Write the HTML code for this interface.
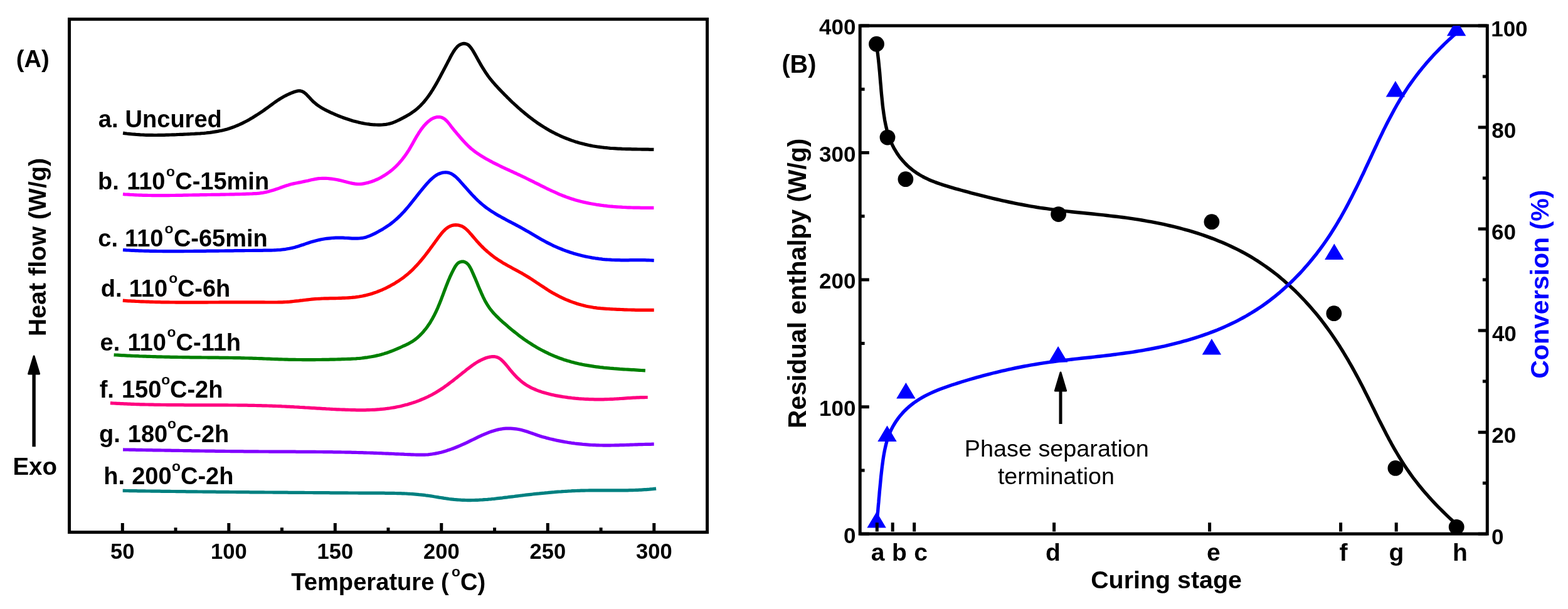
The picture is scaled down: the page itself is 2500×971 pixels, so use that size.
<!DOCTYPE html>
<html><head><meta charset="utf-8"><title>DSC curing figure</title>
<style>html,body{margin:0;padding:0;background:#fff;overflow:hidden}svg{display:block}text{font-family:'Liberation Sans', Arial, Helvetica, sans-serif;font-weight:bold;fill:#000}</style></head><body>
<svg width="2500" height="971" viewBox="0 0 2500 971">
<rect x="0" y="0" width="2500" height="971" fill="#fff"/>
<g id="left">
<path d="M196.1,212.1L199.1,212.6L202.2,213.0L205.3,213.3L208.3,213.7L211.4,214.0L214.5,214.2L217.7,214.5L220.8,214.7L223.9,214.9L227.0,215.0L230.2,215.2L233.3,215.3L236.5,215.3L239.6,215.4L242.8,215.4L246.0,215.5L249.2,215.5L252.3,215.4L255.5,215.4L258.7,215.3L261.9,215.3L265.1,215.2L268.3,215.1L271.5,215.0L274.7,214.9L277.9,214.8L281.1,214.7L284.3,214.5L287.4,214.4L290.6,214.3L293.8,214.1L297.0,214.0L300.2,213.8L303.4,213.7L306.5,213.5L309.7,213.4L312.8,213.2L316.0,213.0L319.1,212.8L322.3,212.5L325.4,212.3L328.5,212.0L331.6,211.6L334.8,211.3L337.8,210.9L340.9,210.4L344.0,209.9L347.1,209.4L350.1,208.8L353.2,208.2L356.2,207.5L359.2,206.7L362.2,205.9L365.2,205.0L368.2,204.0L371.1,203.0L374.1,201.9L377.0,200.7L379.9,199.5L382.8,198.2L385.7,196.8L388.5,195.4L391.3,194.0L394.2,192.5L397.0,190.9L399.7,189.3L402.5,187.7L405.2,186.0L407.9,184.3L410.6,182.6L413.3,180.9L415.9,179.1L418.6,177.3L421.2,175.5L423.7,173.7L426.3,171.8L428.8,170.0L431.3,168.1L433.8,166.3L436.3,164.5L438.8,162.7L441.4,160.9L443.9,159.2L446.6,157.5L449.2,155.9L452.0,154.3L454.8,152.8L457.6,151.4L460.6,150.0L463.6,148.7L466.6,147.5L469.8,146.3L473.0,145.4L476.1,144.8L479.0,144.9L481.8,145.7L484.4,147.1L486.9,149.0L489.2,151.2L491.5,153.6L493.8,156.0L496.0,158.5L498.3,160.8L500.6,163.1L503.0,165.1L505.5,167.1L508.1,168.9L510.7,170.6L513.3,172.2L516.0,173.7L518.7,175.2L521.5,176.6L524.3,177.9L527.1,179.3L530.0,180.5L532.9,181.8L535.8,183.1L538.7,184.3L541.6,185.5L544.6,186.6L547.5,187.7L550.5,188.8L553.5,189.8L556.6,190.8L559.6,191.8L562.6,192.7L565.7,193.5L568.8,194.3L571.9,195.1L574.9,195.8L578.0,196.4L581.1,197.0L584.2,197.5L587.4,197.9L590.5,198.3L593.6,198.6L596.7,198.8L599.8,199.0L603.0,199.1L606.1,199.1L609.2,199.0L612.3,198.7L615.4,198.4L618.5,197.8L621.6,197.1L624.6,196.2L627.6,195.1L630.6,193.9L633.6,192.5L636.5,191.1L639.4,189.6L642.3,188.1L645.1,186.6L647.9,185.1L650.6,183.5L653.3,181.9L655.9,180.2L658.5,178.4L661.0,176.6L663.4,174.7L665.8,172.8L668.0,170.7L670.3,168.6L672.4,166.3L674.6,164.0L676.6,161.7L678.6,159.2L680.5,156.7L682.4,154.2L684.3,151.6L686.1,149.0L687.8,146.3L689.6,143.6L691.2,140.9L692.9,138.1L694.5,135.4L696.1,132.6L697.7,129.8L699.2,127.0L700.7,124.2L702.2,121.4L703.7,118.6L705.2,115.8L706.6,113.1L708.1,110.3L709.5,107.6L711.0,104.8L712.4,102.1L713.8,99.3L715.3,96.6L716.7,93.8L718.1,91.0L719.6,88.2L721.2,85.5L722.8,82.7L724.6,80.0L726.6,77.3L728.7,74.8L731.2,72.6L733.9,71.0L736.8,69.9L739.8,69.4L742.8,69.8L745.5,70.9L747.9,72.7L750.1,75.2L752.1,77.9L753.9,80.6L755.5,83.3L757.1,86.1L758.6,88.8L760.1,91.6L761.6,94.3L763.2,97.1L764.7,99.8L766.3,102.6L767.9,105.3L769.5,108.0L771.2,110.7L772.9,113.4L774.6,116.0L776.4,118.6L778.2,121.2L780.1,123.7L782.0,126.2L784.0,128.6L786.0,131.0L788.1,133.4L790.1,135.7L792.3,138.1L794.4,140.4L796.5,142.6L798.7,144.9L800.9,147.2L803.1,149.4L805.3,151.7L807.6,153.9L809.8,156.2L812.1,158.4L814.3,160.6L816.6,162.8L818.9,164.9L821.3,167.1L823.6,169.2L825.9,171.3L828.3,173.4L830.7,175.5L833.1,177.6L835.5,179.6L838.0,181.6L840.4,183.6L842.9,185.6L845.4,187.5L847.9,189.4L850.4,191.3L853.0,193.1L855.5,195.0L858.1,196.8L860.7,198.5L863.4,200.2L866.0,201.9L868.7,203.6L871.4,205.2L874.1,206.8L876.8,208.4L879.6,209.9L882.4,211.3L885.2,212.8L888.0,214.2L890.9,215.5L893.7,216.8L896.6,218.1L899.5,219.3L902.4,220.5L905.4,221.7L908.3,222.8L911.3,223.9L914.3,224.9L917.3,225.9L920.3,226.8L923.3,227.7L926.4,228.5L929.4,229.3L932.5,230.1L935.5,230.8L938.6,231.5L941.7,232.1L944.8,232.7L947.9,233.2L951.1,233.7L954.2,234.2L957.3,234.6L960.5,235.0L963.6,235.4L966.8,235.7L969.9,236.0L973.1,236.3L976.3,236.5L979.4,236.7L982.6,236.9L985.8,237.1L988.9,237.2L992.1,237.4L995.3,237.5L998.4,237.6L1001.6,237.7L1004.8,237.7L1007.9,237.8L1011.1,237.9L1014.3,237.9L1017.4,238.0L1020.6,238.0L1023.7,238.1L1026.8,238.1L1030.0,238.2L1033.1,238.2L1036.2,238.3L1039.3,238.3L1042.4,238.4" fill="none" stroke="#000000" stroke-width="5.2" stroke-linejoin="round" stroke-linecap="butt"/>
<path d="M196.0,309.5L198.9,309.8L201.8,310.0L204.7,310.2L207.6,310.4L210.5,310.5L213.5,310.7L216.4,310.8L219.3,311.0L222.2,311.1L225.1,311.2L228.1,311.3L231.0,311.4L233.9,311.4L236.9,311.5L239.8,311.5L242.7,311.6L245.7,311.6L248.6,311.6L251.6,311.6L254.5,311.7L257.5,311.6L260.5,311.6L263.4,311.6L266.4,311.6L269.3,311.6L272.3,311.5L275.3,311.5L278.2,311.5L281.2,311.4L284.2,311.4L287.1,311.3L290.1,311.3L293.1,311.2L296.0,311.2L299.0,311.1L302.0,311.0L304.9,311.0L307.9,310.9L310.9,310.9L313.8,310.8L316.8,310.8L319.8,310.7L322.7,310.7L325.7,310.6L328.7,310.6L331.6,310.5L334.6,310.5L337.6,310.4L340.5,310.4L343.5,310.4L346.4,310.3L349.4,310.3L352.3,310.2L355.3,310.1L358.2,310.1L361.2,310.0L364.1,310.0L367.1,309.9L370.0,309.8L372.9,309.8L375.9,309.7L378.8,309.6L381.7,309.6L384.6,309.5L387.5,309.4L390.5,309.3L393.4,309.2L396.3,309.1L399.2,309.0L402.1,308.9L405.0,308.7L407.9,308.6L410.7,308.4L413.6,308.1L416.5,307.7L419.4,307.3L422.2,306.7L425.1,306.1L427.9,305.4L430.8,304.6L433.7,303.8L436.5,302.9L439.3,302.0L442.2,301.1L445.0,300.1L447.9,299.0L450.7,298.0L453.6,297.0L456.4,296.0L459.2,295.2L462.1,294.3L464.9,293.6L467.8,292.9L470.6,292.3L473.5,291.7L476.3,291.1L479.2,290.6L482.0,290.0L484.9,289.4L487.8,288.8L490.6,288.2L493.5,287.5L496.4,286.8L499.3,286.2L502.2,285.6L505.1,285.1L508.0,284.7L510.9,284.5L513.8,284.3L516.7,284.3L519.6,284.4L522.6,284.5L525.5,284.8L528.4,285.1L531.3,285.5L534.3,286.0L537.2,286.5L540.1,287.1L543.1,287.8L546.0,288.5L548.9,289.3L551.8,290.0L554.7,290.8L557.7,291.5L560.6,292.1L563.4,292.7L566.3,293.1L569.2,293.4L572.1,293.5L575.0,293.4L577.8,293.1L580.6,292.6L583.5,292.0L586.3,291.4L589.1,290.6L591.9,289.7L594.6,288.7L597.4,287.7L600.1,286.5L602.8,285.3L605.4,284.0L608.1,282.6L610.6,281.1L613.2,279.5L615.7,277.9L618.1,276.2L620.5,274.5L622.9,272.7L625.2,270.8L627.4,268.8L629.6,266.8L631.8,264.8L633.8,262.7L635.9,260.5L637.8,258.3L639.7,256.1L641.6,253.8L643.4,251.4L645.2,249.1L646.9,246.7L648.6,244.2L650.2,241.8L651.8,239.3L653.3,236.8L654.8,234.2L656.3,231.7L657.8,229.1L659.2,226.5L660.6,223.9L662.1,221.4L663.5,218.8L665.0,216.3L666.6,213.8L668.1,211.3L669.8,208.9L671.4,206.5L673.2,204.1L675.0,201.8L677.0,199.5L679.0,197.4L681.1,195.2L683.4,193.3L685.7,191.4L688.2,189.8L690.7,188.5L693.4,187.4L696.1,186.7L698.9,186.5L701.7,186.7L704.4,187.3L707.0,188.6L709.4,190.2L711.7,192.2L713.8,194.5L715.8,197.0L717.8,199.5L719.6,202.0L721.5,204.4L723.3,206.6L725.1,208.8L726.9,210.9L728.7,213.1L730.6,215.3L732.5,217.5L734.4,219.7L736.4,222.0L738.4,224.2L740.5,226.5L742.5,228.7L744.7,230.9L746.8,233.0L749.0,235.0L751.2,237.0L753.5,238.8L755.8,240.6L758.1,242.3L760.4,244.0L762.8,245.6L765.2,247.2L767.6,248.7L770.1,250.2L772.6,251.7L775.1,253.2L777.6,254.6L780.2,256.0L782.8,257.4L785.4,258.8L788.0,260.1L790.6,261.4L793.2,262.7L795.9,264.0L798.6,265.3L801.2,266.6L803.9,267.8L806.6,269.1L809.3,270.3L812.0,271.5L814.7,272.8L817.4,274.0L820.1,275.3L822.8,276.5L825.5,277.8L828.2,279.0L830.9,280.3L833.6,281.6L836.3,282.8L839.0,284.2L841.6,285.5L844.3,286.8L846.9,288.1L849.6,289.4L852.2,290.8L854.9,292.1L857.5,293.4L860.2,294.7L862.8,296.1L865.4,297.4L868.1,298.7L870.7,300.0L873.4,301.3L876.0,302.5L878.7,303.8L881.3,305.0L884.0,306.2L886.7,307.4L889.3,308.6L892.0,309.8L894.7,310.9L897.4,312.0L900.2,313.0L902.9,314.1L905.6,315.0L908.4,316.0L911.2,316.9L914.0,317.8L916.8,318.7L919.6,319.5L922.4,320.2L925.2,321.0L928.1,321.7L931.0,322.4L933.8,323.0L936.7,323.6L939.6,324.2L942.5,324.8L945.4,325.3L948.3,325.8L951.2,326.3L954.2,326.7L957.1,327.1L960.0,327.5L963.0,327.9L965.9,328.2L968.9,328.6L971.8,328.9L974.8,329.1L977.7,329.4L980.7,329.6L983.7,329.8L986.6,330.0L989.6,330.2L992.6,330.4L995.5,330.5L998.5,330.7L1001.4,330.8L1004.4,330.9L1007.4,331.0L1010.3,331.1L1013.3,331.1L1016.2,331.2L1019.1,331.2L1022.1,331.3L1025.0,331.3L1027.9,331.3L1030.8,331.3L1033.7,331.3L1036.6,331.3L1039.5,331.3L1042.4,331.3" fill="none" stroke="#FF00FF" stroke-width="5.2" stroke-linejoin="round" stroke-linecap="butt"/>
<path d="M196.0,398.5L198.9,398.7L201.8,398.9L204.7,399.0L207.6,399.2L210.5,399.3L213.4,399.4L216.3,399.6L219.2,399.7L222.1,399.8L225.0,399.9L227.9,400.0L230.8,400.1L233.7,400.1L236.6,400.2L239.6,400.3L242.5,400.3L245.4,400.4L248.3,400.4L251.2,400.5L254.2,400.5L257.1,400.5L260.0,400.6L262.9,400.6L265.9,400.6L268.8,400.6L271.7,400.6L274.6,400.6L277.6,400.6L280.5,400.6L283.4,400.6L286.3,400.6L289.3,400.6L292.2,400.6L295.1,400.5L298.1,400.5L301.0,400.5L303.9,400.5L306.9,400.5L309.8,400.4L312.7,400.4L315.7,400.4L318.6,400.4L321.5,400.3L324.5,400.3L327.4,400.3L330.3,400.2L333.3,400.2L336.2,400.2L339.1,400.2L342.0,400.1L345.0,400.1L347.9,400.1L350.8,400.0L353.8,400.0L356.7,400.0L359.6,399.9L362.5,399.9L365.5,399.9L368.4,399.8L371.3,399.8L374.2,399.7L377.1,399.7L380.1,399.7L383.0,399.6L385.9,399.6L388.8,399.6L391.7,399.5L394.6,399.5L397.6,399.5L400.5,399.5L403.4,399.4L406.3,399.4L409.2,399.4L412.1,399.3L415.0,399.3L417.9,399.3L420.8,399.2L423.7,399.2L426.6,399.2L429.5,399.1L432.4,399.1L435.3,399.0L438.1,398.8L441.0,398.7L443.9,398.5L446.8,398.3L449.7,398.0L452.5,397.7L455.4,397.3L458.3,396.8L461.2,396.3L464.0,395.7L466.9,395.1L469.7,394.4L472.6,393.5L475.5,392.7L478.3,391.8L481.2,390.8L484.0,389.9L486.9,388.9L489.7,387.9L492.5,387.0L495.4,386.1L498.2,385.3L501.0,384.5L503.9,383.7L506.7,383.0L509.5,382.4L512.3,381.8L515.2,381.3L518.0,380.8L520.8,380.4L523.7,380.1L526.5,379.8L529.4,379.5L532.2,379.3L535.1,379.2L538.0,379.1L540.8,379.1L543.7,379.1L546.6,379.2L549.6,379.4L552.5,379.5L555.4,379.7L558.4,379.9L561.3,380.1L564.2,380.2L567.1,380.2L570.0,380.2L572.9,380.0L575.8,379.7L578.7,379.3L581.5,378.7L584.3,377.9L587.1,376.9L589.9,375.9L592.6,374.7L595.3,373.4L598.0,372.1L600.6,370.7L603.2,369.3L605.8,367.8L608.3,366.4L610.9,364.9L613.3,363.4L615.8,361.8L618.2,360.2L620.6,358.6L622.9,356.9L625.2,355.1L627.5,353.3L629.7,351.4L631.9,349.5L634.1,347.5L636.2,345.5L638.3,343.5L640.3,341.4L642.3,339.3L644.3,337.2L646.2,335.0L648.1,332.8L650.0,330.6L651.9,328.4L653.7,326.2L655.5,323.9L657.3,321.7L659.1,319.4L660.9,317.1L662.7,314.8L664.5,312.5L666.4,310.2L668.2,307.9L670.0,305.6L671.9,303.4L673.7,301.1L675.6,298.8L677.6,296.5L679.5,294.3L681.5,292.0L683.6,289.8L685.6,287.6L687.8,285.5L690.0,283.6L692.3,281.7L694.6,280.0L697.0,278.5L699.6,277.2L702.2,276.2L704.9,275.4L707.7,275.0L710.6,274.8L713.4,275.0L716.1,275.6L718.8,276.6L721.3,278.0L723.7,279.6L726.0,281.4L728.2,283.4L730.4,285.6L732.5,287.8L734.5,290.1L736.5,292.4L738.5,294.6L740.4,296.8L742.4,298.9L744.3,301.1L746.2,303.2L748.1,305.4L750.1,307.5L752.0,309.7L754.0,311.8L756.1,313.9L758.1,316.0L760.2,318.1L762.3,320.1L764.5,322.1L766.6,324.0L768.8,325.9L771.1,327.8L773.4,329.6L775.7,331.3L778.0,333.0L780.4,334.7L782.8,336.3L785.3,337.9L787.7,339.4L790.2,340.9L792.7,342.4L795.2,343.9L797.8,345.3L800.3,346.7L802.9,348.1L805.5,349.5L808.0,350.9L810.6,352.3L813.2,353.6L815.8,355.0L818.4,356.4L821.0,357.7L823.6,359.1L826.2,360.5L828.8,361.9L831.3,363.3L833.9,364.7L836.5,366.2L839.0,367.7L841.5,369.1L844.1,370.6L846.6,372.1L849.1,373.6L851.7,375.1L854.2,376.5L856.7,378.0L859.3,379.5L861.8,380.9L864.4,382.4L866.9,383.8L869.5,385.2L872.1,386.6L874.6,387.9L877.2,389.2L879.9,390.5L882.5,391.8L885.1,393.0L887.8,394.2L890.5,395.3L893.2,396.4L895.9,397.5L898.6,398.6L901.3,399.6L904.0,400.6L906.8,401.5L909.6,402.5L912.3,403.3L915.1,404.2L917.9,405.0L920.7,405.8L923.5,406.5L926.4,407.2L929.2,407.9L932.0,408.6L934.9,409.2L937.8,409.8L940.6,410.3L943.5,410.9L946.4,411.3L949.3,411.8L952.2,412.2L955.1,412.6L958.0,412.9L960.9,413.3L963.8,413.6L966.7,413.8L969.6,414.0L972.6,414.2L975.5,414.4L978.4,414.5L981.3,414.6L984.3,414.7L987.2,414.7L990.1,414.8L993.1,414.8L996.0,414.8L999.0,414.8L1001.9,414.8L1004.8,414.7L1007.8,414.7L1010.7,414.7L1013.6,414.7L1016.5,414.6L1019.5,414.6L1022.4,414.7L1025.3,414.7L1028.2,414.7L1031.1,414.8L1034.0,414.9L1036.9,415.0L1039.8,415.1L1042.7,415.3" fill="none" stroke="#0000FF" stroke-width="5.2" stroke-linejoin="round" stroke-linecap="butt"/>
<path d="M195.8,479.2L198.8,479.4L201.7,479.6L204.6,479.8L207.6,479.9L210.5,480.1L213.4,480.2L216.4,480.4L219.3,480.5L222.2,480.7L225.1,480.8L228.1,480.9L231.0,481.0L233.9,481.1L236.8,481.2L239.8,481.3L242.7,481.4L245.6,481.5L248.5,481.6L251.5,481.6L254.4,481.7L257.3,481.8L260.2,481.8L263.2,481.9L266.1,481.9L269.0,481.9L271.9,482.0L274.8,482.0L277.8,482.0L280.7,482.1L283.6,482.1L286.5,482.1L289.4,482.1L292.4,482.1L295.3,482.1L298.2,482.1L301.1,482.2L304.0,482.2L307.0,482.1L309.9,482.1L312.8,482.1L315.7,482.1L318.6,482.1L321.5,482.1L324.5,482.1L327.4,482.1L330.3,482.1L333.2,482.0L336.1,482.0L339.1,482.0L342.0,482.0L344.9,482.0L347.8,482.0L350.7,481.9L353.6,481.9L356.6,481.9L359.5,481.9L362.4,481.9L365.3,481.8L368.2,481.8L371.2,481.8L374.1,481.8L377.0,481.8L379.9,481.8L382.8,481.8L385.8,481.8L388.7,481.8L391.6,481.8L394.5,481.8L397.4,481.8L400.4,481.8L403.3,481.8L406.2,481.8L409.1,481.8L412.0,481.8L415.0,481.9L417.9,481.9L420.8,481.9L423.7,482.0L426.7,482.0L429.6,482.0L432.5,482.0L435.4,482.0L438.3,482.0L441.3,482.0L444.2,481.9L447.1,481.9L450.0,481.8L453.0,481.6L455.9,481.5L458.8,481.3L461.8,481.1L464.7,480.8L467.6,480.5L470.5,480.2L473.5,479.9L476.4,479.6L479.3,479.2L482.3,478.9L485.2,478.5L488.1,478.2L491.0,477.8L494.0,477.5L496.9,477.2L499.8,476.9L502.7,476.7L505.7,476.5L508.6,476.3L511.5,476.2L514.4,476.0L517.3,475.9L520.2,475.9L523.1,475.8L526.1,475.7L529.0,475.7L531.9,475.6L534.8,475.6L537.7,475.5L540.6,475.4L543.5,475.3L546.4,475.2L549.3,475.1L552.1,475.0L555.0,474.8L557.9,474.6L560.8,474.4L563.7,474.1L566.5,473.8L569.4,473.4L572.3,473.0L575.1,472.5L578.0,472.0L580.8,471.4L583.7,470.8L586.5,470.0L589.3,469.3L592.2,468.4L595.0,467.5L597.8,466.6L600.6,465.6L603.3,464.5L606.1,463.4L608.8,462.3L611.6,461.0L614.3,459.8L616.9,458.5L619.6,457.1L622.2,455.8L624.8,454.3L627.4,452.9L629.9,451.4L632.4,449.8L634.9,448.3L637.3,446.7L639.7,445.0L642.1,443.3L644.4,441.6L646.6,439.8L648.9,438.0L651.1,436.1L653.2,434.2L655.3,432.3L657.4,430.3L659.4,428.3L661.4,426.2L663.4,424.2L665.4,422.0L667.3,419.9L669.2,417.7L671.1,415.5L672.9,413.3L674.8,411.0L676.6,408.8L678.4,406.5L680.2,404.1L682.0,401.8L683.8,399.4L685.6,397.0L687.3,394.6L689.1,392.2L690.9,389.8L692.7,387.4L694.4,384.9L696.2,382.5L698.0,380.0L699.8,377.5L701.7,375.1L703.5,372.7L705.4,370.5L707.4,368.3L709.4,366.3L711.6,364.4L713.8,362.8L716.1,361.4L718.5,360.3L721.1,359.4L723.8,358.9L726.6,358.7L729.5,358.8L732.4,359.4L735.2,360.2L737.8,361.4L740.3,363.0L742.6,364.8L744.9,366.9L747.1,369.1L749.1,371.4L751.2,373.7L753.1,376.0L755.0,378.2L756.9,380.4L758.8,382.6L760.6,384.7L762.5,386.8L764.4,388.9L766.4,391.0L768.3,393.0L770.4,395.0L772.5,397.1L774.7,399.0L776.9,401.0L779.1,402.9L781.4,404.8L783.7,406.7L786.1,408.5L788.5,410.3L790.9,412.0L793.3,413.6L795.8,415.3L798.3,416.8L800.8,418.4L803.3,419.9L805.8,421.3L808.3,422.8L810.9,424.2L813.4,425.6L816.0,427.0L818.5,428.4L821.1,429.8L823.6,431.1L826.2,432.5L828.7,433.9L831.3,435.3L833.8,436.8L836.3,438.2L838.8,439.7L841.3,441.2L843.8,442.8L846.3,444.4L848.7,445.9L851.2,447.6L853.6,449.2L856.0,450.8L858.5,452.4L860.9,454.1L863.3,455.7L865.8,457.3L868.3,458.9L870.7,460.5L873.2,462.1L875.7,463.7L878.2,465.2L880.7,466.7L883.3,468.1L885.8,469.5L888.4,470.9L891.0,472.3L893.7,473.6L896.3,474.8L899.0,476.1L901.6,477.3L904.3,478.4L907.0,479.5L909.7,480.6L912.5,481.6L915.2,482.6L918.0,483.5L920.8,484.4L923.6,485.3L926.4,486.1L929.2,486.8L932.0,487.5L934.9,488.2L937.7,488.8L940.6,489.3L943.4,489.8L946.3,490.3L949.2,490.7L952.1,491.1L955.0,491.4L957.9,491.7L960.8,491.9L963.7,492.1L966.6,492.3L969.5,492.5L972.5,492.7L975.4,492.8L978.3,493.0L981.3,493.1L984.2,493.3L987.2,493.4L990.1,493.5L993.0,493.6L996.0,493.8L998.9,493.9L1001.9,494.0L1004.8,494.0L1007.8,494.1L1010.7,494.2L1013.6,494.3L1016.6,494.3L1019.5,494.4L1022.4,494.4L1025.3,494.4L1028.2,494.4L1031.1,494.4L1034.0,494.4L1036.9,494.4L1039.8,494.3L1042.7,494.3" fill="none" stroke="#FF0000" stroke-width="5.2" stroke-linejoin="round" stroke-linecap="butt"/>
<path d="M181.6,565.8L184.7,566.0L187.8,566.2L191.0,566.4L194.1,566.6L197.3,566.7L200.4,566.9L203.6,567.1L206.7,567.2L209.8,567.3L213.0,567.5L216.1,567.6L219.3,567.7L222.4,567.9L225.5,568.0L228.7,568.1L231.8,568.2L234.9,568.3L238.1,568.4L241.2,568.5L244.4,568.6L247.5,568.7L250.6,568.8L253.8,568.8L256.9,568.9L260.0,569.0L263.2,569.1L266.3,569.1L269.4,569.2L272.6,569.3L275.7,569.3L278.8,569.4L282.0,569.4L285.1,569.5L288.2,569.5L291.4,569.6L294.5,569.6L297.6,569.7L300.8,569.7L303.9,569.8L307.0,569.8L310.2,569.8L313.3,569.9L316.4,569.9L319.6,569.9L322.7,570.0L325.8,570.0L329.0,570.0L332.1,570.1L335.2,570.1L338.4,570.1L341.5,570.2L344.6,570.2L347.8,570.2L350.9,570.3L354.0,570.3L357.2,570.4L360.3,570.4L363.4,570.4L366.6,570.5L369.7,570.5L372.9,570.6L376.0,570.6L379.1,570.7L382.3,570.7L385.4,570.8L388.5,570.9L391.7,571.0L394.8,571.0L397.9,571.1L401.1,571.2L404.2,571.3L407.4,571.4L410.5,571.5L413.6,571.6L416.8,571.7L419.9,571.8L423.1,572.0L426.2,572.1L429.3,572.2L432.5,572.3L435.6,572.5L438.8,572.6L441.9,572.7L445.0,572.8L448.2,572.9L451.3,573.0L454.5,573.1L457.6,573.2L460.8,573.3L463.9,573.3L467.1,573.4L470.2,573.4L473.4,573.5L476.5,573.5L479.6,573.5L482.8,573.6L485.9,573.6L489.1,573.6L492.2,573.6L495.4,573.6L498.5,573.6L501.7,573.6L504.8,573.5L507.9,573.5L511.1,573.5L514.2,573.4L517.4,573.4L520.5,573.3L523.6,573.3L526.8,573.2L529.9,573.1L533.0,573.1L536.1,573.0L539.3,572.9L542.4,572.8L545.5,572.7L548.6,572.6L551.7,572.5L554.9,572.4L558.0,572.3L561.1,572.1L564.2,572.0L567.3,571.8L570.4,571.5L573.5,571.3L576.6,571.0L579.7,570.6L582.7,570.2L585.8,569.8L588.9,569.3L592.0,568.8L595.1,568.2L598.1,567.6L601.2,566.9L604.3,566.2L607.3,565.4L610.4,564.6L613.4,563.6L616.5,562.7L619.5,561.6L622.5,560.5L625.6,559.3L628.6,558.1L631.6,556.9L634.5,555.6L637.5,554.3L640.4,553.0L643.2,551.7L646.1,550.5L648.8,549.1L651.6,547.8L654.2,546.3L656.8,544.8L659.3,543.1L661.8,541.4L664.2,539.5L666.5,537.5L668.8,535.4L671.0,533.2L673.1,531.0L675.2,528.7L677.2,526.2L679.2,523.8L681.1,521.2L682.9,518.6L684.7,516.0L686.4,513.3L688.0,510.5L689.6,507.8L691.1,505.0L692.6,502.2L694.0,499.3L695.4,496.5L696.7,493.6L698.0,490.7L699.2,487.8L700.4,484.9L701.6,482.0L702.8,479.1L703.9,476.2L705.0,473.2L706.1,470.3L707.2,467.4L708.3,464.4L709.4,461.5L710.5,458.6L711.6,455.7L712.8,452.7L713.9,449.8L715.1,446.9L716.4,444.0L717.6,441.1L718.9,438.3L720.3,435.4L721.7,432.6L723.1,429.8L724.7,426.9L726.3,424.2L728.1,421.7L730.2,419.5L732.8,418.0L735.8,417.2L738.8,417.1L741.5,417.9L743.9,419.3L746.1,421.3L748.0,423.8L749.7,426.6L751.3,429.6L752.7,432.8L754.1,435.9L755.4,438.9L756.7,441.9L758.0,444.8L759.2,447.7L760.4,450.5L761.6,453.4L762.7,456.2L763.9,459.0L765.1,461.9L766.4,464.7L767.6,467.6L768.9,470.4L770.2,473.3L771.6,476.1L773.0,478.9L774.5,481.7L776.1,484.4L777.8,487.1L779.5,489.7L781.3,492.2L783.2,494.7L785.2,497.1L787.2,499.5L789.4,501.8L791.5,504.0L793.8,506.2L796.0,508.4L798.4,510.6L800.7,512.7L803.1,514.7L805.5,516.8L807.8,518.8L810.2,520.9L812.6,522.9L815.0,524.9L817.4,526.9L819.9,528.9L822.3,530.8L824.8,532.8L827.2,534.7L829.7,536.6L832.2,538.4L834.8,540.3L837.3,542.1L839.9,543.8L842.5,545.6L845.2,547.3L847.8,549.0L850.5,550.7L853.2,552.3L855.9,553.9L858.6,555.4L861.4,557.0L864.2,558.5L867.0,559.9L869.8,561.3L872.6,562.7L875.4,564.1L878.3,565.4L881.2,566.6L884.1,567.9L887.0,569.0L889.9,570.2L892.8,571.3L895.8,572.3L898.7,573.4L901.7,574.3L904.7,575.3L907.7,576.1L910.7,577.0L913.7,577.8L916.7,578.6L919.8,579.3L922.8,580.0L925.9,580.6L928.9,581.3L932.0,581.9L935.1,582.4L938.2,582.9L941.3,583.4L944.4,583.9L947.5,584.4L950.6,584.8L953.7,585.2L956.9,585.6L960.0,585.9L963.1,586.3L966.2,586.6L969.4,586.9L972.5,587.2L975.7,587.4L978.8,587.7L981.9,587.9L985.1,588.1L988.2,588.4L991.4,588.6L994.5,588.8L997.7,589.0L1000.8,589.2L1003.9,589.4L1007.1,589.6L1010.2,589.7L1013.3,589.9L1016.4,590.1L1019.6,590.3L1022.7,590.5L1025.8,590.7L1028.9,590.9" fill="none" stroke="#008000" stroke-width="5.2" stroke-linejoin="round" stroke-linecap="butt"/>
<path d="M175.9,642.6L178.7,642.8L181.5,643.0L184.3,643.1L187.2,643.3L190.0,643.4L192.8,643.6L195.7,643.7L198.5,643.8L201.3,643.9L204.2,644.1L207.0,644.2L209.8,644.3L212.6,644.4L215.5,644.5L218.3,644.6L221.1,644.7L223.9,644.8L226.8,644.8L229.6,644.9L232.4,645.0L235.3,645.0L238.1,645.1L240.9,645.2L243.7,645.2L246.6,645.3L249.4,645.3L252.2,645.4L255.0,645.4L257.9,645.5L260.7,645.5L263.5,645.5L266.3,645.6L269.2,645.6L272.0,645.6L274.8,645.6L277.6,645.7L280.5,645.7L283.3,645.7L286.1,645.7L288.9,645.7L291.8,645.7L294.6,645.8L297.4,645.8L300.2,645.8L303.0,645.8L305.9,645.8L308.7,645.8L311.5,645.8L314.3,645.8L317.2,645.8L320.0,645.8L322.8,645.8L325.6,645.8L328.5,645.8L331.3,645.8L334.1,645.8L336.9,645.8L339.7,645.9L342.6,645.9L345.4,645.9L348.2,645.9L351.0,645.9L353.9,645.9L356.7,645.9L359.5,645.9L362.3,645.9L365.2,646.0L368.0,646.0L370.8,646.0L373.6,646.0L376.4,646.0L379.3,646.1L382.1,646.1L384.9,646.1L387.7,646.2L390.6,646.2L393.4,646.2L396.2,646.3L399.0,646.3L401.8,646.4L404.7,646.4L407.5,646.5L410.3,646.6L413.1,646.6L416.0,646.7L418.8,646.8L421.6,646.8L424.4,646.9L427.2,647.0L430.1,647.1L432.9,647.2L435.7,647.3L438.5,647.4L441.4,647.5L444.2,647.6L447.0,647.7L449.8,647.9L452.7,648.0L455.5,648.1L458.3,648.3L461.1,648.4L463.9,648.6L466.8,648.7L469.6,648.9L472.4,649.0L475.2,649.2L478.1,649.4L480.9,649.5L483.7,649.7L486.5,649.9L489.4,650.0L492.2,650.2L495.0,650.4L497.8,650.6L500.7,650.7L503.5,650.9L506.3,651.1L509.1,651.2L512.0,651.4L514.8,651.6L517.6,651.7L520.4,651.9L523.3,652.0L526.1,652.2L528.9,652.3L531.7,652.5L534.6,652.6L537.4,652.8L540.2,652.9L543.1,653.0L545.9,653.1L548.7,653.2L551.5,653.4L554.4,653.4L557.2,653.5L560.0,653.6L562.8,653.7L565.7,653.7L568.5,653.8L571.3,653.8L574.1,653.8L577.0,653.8L579.8,653.8L582.6,653.8L585.4,653.7L588.2,653.6L591.1,653.5L593.9,653.4L596.7,653.3L599.5,653.1L602.3,652.9L605.1,652.7L607.9,652.4L610.7,652.2L613.5,651.9L616.3,651.5L619.1,651.2L621.9,650.8L624.7,650.3L627.5,649.9L630.3,649.4L633.0,648.8L635.8,648.3L638.6,647.7L641.3,647.0L644.1,646.3L646.8,645.6L649.6,644.9L652.3,644.1L655.0,643.3L657.7,642.4L660.4,641.5L663.1,640.6L665.7,639.6L668.4,638.6L671.0,637.5L673.6,636.4L676.2,635.3L678.8,634.2L681.4,633.0L683.9,631.7L686.4,630.5L688.9,629.2L691.4,627.8L693.8,626.4L696.2,625.0L698.6,623.5L701.0,622.0L703.3,620.5L705.7,619.0L708.0,617.4L710.3,615.7L712.6,614.1L714.8,612.4L717.1,610.7L719.3,609.0L721.6,607.3L723.8,605.6L726.0,603.8L728.2,602.1L730.5,600.3L732.7,598.5L734.9,596.7L737.1,594.9L739.4,593.2L741.6,591.4L743.8,589.6L746.1,587.8L748.4,586.1L750.7,584.4L753.0,582.7L755.3,581.0L757.7,579.4L760.1,577.9L762.5,576.4L765.0,575.1L767.5,573.8L770.1,572.6L772.8,571.5L775.4,570.5L778.2,569.7L780.9,569.1L783.7,568.7L786.4,568.5L789.0,568.7L791.6,569.2L794.0,570.1L796.3,571.4L798.5,573.0L800.6,574.9L802.6,576.9L804.6,579.0L806.5,581.2L808.3,583.4L810.2,585.7L812.0,588.0L813.9,590.3L815.8,592.5L817.7,594.7L819.6,596.9L821.6,599.0L823.6,601.1L825.7,603.1L827.8,605.0L829.9,606.9L832.1,608.7L834.2,610.4L836.5,612.0L838.8,613.6L841.1,615.0L843.4,616.3L845.8,617.6L848.2,618.8L850.7,619.9L853.2,621.0L855.8,622.1L858.4,623.1L861.0,624.0L863.7,624.9L866.4,625.7L869.1,626.5L871.9,627.3L874.7,628.0L877.5,628.7L880.3,629.4L883.1,630.0L885.9,630.6L888.8,631.1L891.6,631.6L894.5,632.1L897.3,632.6L900.2,633.0L903.0,633.4L905.9,633.8L908.7,634.1L911.5,634.5L914.4,634.8L917.2,635.1L920.0,635.3L922.8,635.6L925.7,635.8L928.5,636.0L931.3,636.2L934.1,636.3L936.9,636.4L939.7,636.6L942.5,636.7L945.3,636.7L948.1,636.8L950.9,636.8L953.7,636.8L956.5,636.8L959.3,636.8L962.1,636.8L964.9,636.7L967.7,636.6L970.5,636.5L973.3,636.4L976.1,636.3L978.9,636.2L981.7,636.0L984.5,635.8L987.3,635.7L990.1,635.5L992.9,635.3L995.8,635.1L998.6,634.9L1001.4,634.7L1004.2,634.6L1007.0,634.4L1009.9,634.2L1012.7,634.1L1015.5,633.9L1018.4,633.8L1021.2,633.7L1024.1,633.6L1026.9,633.6L1029.8,633.5L1032.7,633.5" fill="none" stroke="#FF0080" stroke-width="5.2" stroke-linejoin="round" stroke-linecap="butt"/>
<path d="M196.1,716.9L198.8,717.0L201.5,717.0L204.1,717.0L206.8,717.1L209.5,717.1L212.2,717.2L214.9,717.2L217.6,717.3L220.3,717.3L223.0,717.4L225.7,717.4L228.4,717.5L231.1,717.5L233.8,717.6L236.5,717.6L239.1,717.7L241.8,717.7L244.5,717.8L247.2,717.8L249.9,717.9L252.6,717.9L255.3,717.9L258.0,718.0L260.7,718.0L263.4,718.1L266.0,718.1L268.7,718.2L271.4,718.2L274.1,718.3L276.8,718.3L279.5,718.3L282.2,718.4L284.9,718.4L287.5,718.5L290.2,718.5L292.9,718.6L295.6,718.6L298.3,718.6L301.0,718.7L303.7,718.7L306.4,718.8L309.0,718.8L311.7,718.8L314.4,718.9L317.1,718.9L319.8,719.0L322.5,719.0L325.2,719.0L327.8,719.1L330.5,719.1L333.2,719.1L335.9,719.2L338.6,719.2L341.3,719.2L344.0,719.3L346.6,719.3L349.3,719.3L352.0,719.4L354.7,719.4L357.4,719.4L360.1,719.5L362.8,719.5L365.4,719.5L368.1,719.6L370.8,719.6L373.5,719.6L376.2,719.6L378.9,719.7L381.6,719.7L384.2,719.7L386.9,719.7L389.6,719.8L392.3,719.8L395.0,719.8L397.7,719.8L400.4,719.9L403.0,719.9L405.7,719.9L408.4,719.9L411.1,719.9L413.8,720.0L416.5,720.0L419.2,720.0L421.8,720.0L424.5,720.0L427.2,720.0L429.9,720.1L432.6,720.1L435.3,720.1L438.0,720.1L440.6,720.1L443.3,720.1L446.0,720.1L448.7,720.1L451.4,720.2L454.1,720.2L456.8,720.2L459.4,720.2L462.1,720.2L464.8,720.2L467.5,720.2L470.2,720.2L472.9,720.3L475.6,720.3L478.3,720.3L480.9,720.3L483.6,720.3L486.3,720.3L489.0,720.3L491.7,720.4L494.4,720.4L497.1,720.4L499.8,720.4L502.5,720.4L505.1,720.5L507.8,720.5L510.5,720.5L513.2,720.5L515.9,720.6L518.6,720.6L521.3,720.6L524.0,720.7L526.7,720.7L529.3,720.7L532.0,720.8L534.7,720.8L537.4,720.8L540.1,720.9L542.8,720.9L545.5,721.0L548.2,721.0L550.9,721.1L553.6,721.1L556.3,721.2L559.0,721.2L561.7,721.3L564.3,721.4L567.0,721.4L569.7,721.5L572.4,721.6L575.1,721.6L577.8,721.7L580.5,721.8L583.2,721.9L585.9,722.0L588.6,722.0L591.3,722.1L594.0,722.2L596.7,722.3L599.4,722.4L602.1,722.5L604.8,722.6L607.5,722.7L610.2,722.8L612.9,723.0L615.6,723.1L618.3,723.2L621.0,723.3L623.7,723.4L626.3,723.5L629.0,723.7L631.7,723.8L634.4,723.9L637.1,724.0L639.8,724.1L642.5,724.2L645.2,724.4L647.8,724.5L650.5,724.6L653.2,724.7L655.9,724.8L658.5,724.9L661.2,725.0L663.9,725.1L666.5,725.1L669.2,725.2L671.8,725.2L674.5,725.2L677.1,725.1L679.8,725.0L682.4,724.8L685.0,724.5L687.6,724.2L690.3,723.8L692.9,723.4L695.5,722.9L698.1,722.4L700.7,721.8L703.3,721.2L705.9,720.5L708.5,719.7L711.1,719.0L713.6,718.1L716.2,717.3L718.8,716.4L721.3,715.5L723.9,714.5L726.4,713.5L728.9,712.5L731.5,711.4L734.0,710.3L736.5,709.2L739.0,708.1L741.5,707.0L744.0,705.8L746.5,704.6L748.9,703.4L751.4,702.2L753.9,701.0L756.3,699.8L758.8,698.6L761.2,697.4L763.7,696.2L766.1,695.1L768.6,693.9L771.1,692.9L773.5,691.8L776.0,690.8L778.5,689.8L781.0,688.9L783.4,688.0L786.0,687.2L788.5,686.4L791.0,685.7L793.5,685.1L796.1,684.5L798.7,684.1L801.2,683.7L803.8,683.4L806.5,683.2L809.1,683.1L811.8,683.1L814.4,683.2L817.1,683.3L819.7,683.6L822.4,683.9L825.1,684.3L827.7,684.8L830.4,685.3L833.0,686.0L835.6,686.7L838.2,687.5L840.8,688.3L843.4,689.2L846.0,690.1L848.6,691.0L851.1,691.9L853.7,692.8L856.3,693.7L858.8,694.6L861.4,695.4L864.0,696.2L866.6,696.9L869.2,697.6L871.8,698.4L874.4,699.0L877.0,699.7L879.6,700.3L882.2,700.9L884.8,701.5L887.5,702.1L890.1,702.6L892.7,703.1L895.4,703.6L898.0,704.1L900.6,704.6L903.3,705.0L905.9,705.5L908.6,705.9L911.2,706.3L913.9,706.6L916.5,707.0L919.2,707.3L921.8,707.6L924.5,707.9L927.2,708.2L929.8,708.5L932.5,708.7L935.2,708.9L937.9,709.1L940.5,709.3L943.2,709.5L945.9,709.6L948.6,709.7L951.2,709.8L953.9,709.9L956.6,710.0L959.3,710.0L962.0,710.1L964.7,710.1L967.4,710.1L970.1,710.1L972.8,710.1L975.4,710.0L978.1,710.0L980.8,709.9L983.5,709.9L986.2,709.8L988.9,709.7L991.6,709.7L994.3,709.6L997.0,709.5L999.7,709.4L1002.4,709.3L1005.1,709.2L1007.8,709.1L1010.5,709.0L1013.2,708.9L1015.9,708.8L1018.5,708.7L1021.2,708.6L1023.9,708.6L1026.6,708.5L1029.3,708.4L1032.0,708.4L1034.7,708.3L1037.4,708.3L1040.0,708.2L1042.7,708.2" fill="none" stroke="#8000FF" stroke-width="5.2" stroke-linejoin="round" stroke-linecap="butt"/>
<path d="M195.7,782.4L198.4,782.4L201.1,782.5L203.8,782.5L206.5,782.6L209.1,782.6L211.8,782.6L214.5,782.7L217.2,782.7L219.9,782.8L222.5,782.8L225.2,782.8L227.9,782.9L230.6,782.9L233.2,783.0L235.9,783.0L238.6,783.0L241.3,783.1L244.0,783.1L246.6,783.1L249.3,783.2L252.0,783.2L254.7,783.2L257.3,783.3L260.0,783.3L262.7,783.3L265.4,783.4L268.0,783.4L270.7,783.4L273.4,783.5L276.1,783.5L278.7,783.5L281.4,783.6L284.1,783.6L286.8,783.6L289.4,783.7L292.1,783.7L294.8,783.7L297.5,783.8L300.1,783.8L302.8,783.8L305.5,783.9L308.2,783.9L310.8,783.9L313.5,783.9L316.2,784.0L318.9,784.0L321.5,784.0L324.2,784.1L326.9,784.1L329.5,784.1L332.2,784.1L334.9,784.2L337.6,784.2L340.2,784.2L342.9,784.2L345.6,784.3L348.2,784.3L350.9,784.3L353.6,784.3L356.3,784.4L358.9,784.4L361.6,784.4L364.3,784.4L366.9,784.5L369.6,784.5L372.3,784.5L375.0,784.5L377.6,784.6L380.3,784.6L383.0,784.6L385.6,784.6L388.3,784.7L391.0,784.7L393.6,784.7L396.3,784.7L399.0,784.8L401.7,784.8L404.3,784.8L407.0,784.8L409.7,784.8L412.3,784.9L415.0,784.9L417.7,784.9L420.3,784.9L423.0,785.0L425.7,785.0L428.3,785.0L431.0,785.0L433.7,785.0L436.3,785.1L439.0,785.1L441.7,785.1L444.4,785.1L447.0,785.1L449.7,785.2L452.4,785.2L455.0,785.2L457.7,785.2L460.4,785.3L463.0,785.3L465.7,785.3L468.4,785.3L471.0,785.3L473.7,785.4L476.4,785.4L479.0,785.4L481.7,785.4L484.4,785.4L487.0,785.5L489.7,785.5L492.4,785.5L495.0,785.5L497.7,785.5L500.3,785.6L503.0,785.6L505.7,785.6L508.3,785.6L511.0,785.6L513.7,785.7L516.3,785.7L519.0,785.7L521.7,785.7L524.3,785.7L527.0,785.8L529.7,785.8L532.3,785.8L535.0,785.8L537.7,785.8L540.3,785.9L543.0,785.9L545.7,785.9L548.3,785.9L551.0,785.9L553.6,785.9L556.3,786.0L559.0,786.0L561.6,786.0L564.3,786.0L567.0,786.0L569.6,786.0L572.3,786.1L575.0,786.1L577.6,786.1L580.3,786.1L582.9,786.1L585.6,786.1L588.3,786.1L590.9,786.2L593.6,786.2L596.3,786.2L598.9,786.2L601.6,786.2L604.2,786.2L606.9,786.2L609.6,786.2L612.2,786.2L614.9,786.3L617.6,786.3L620.2,786.3L622.9,786.4L625.5,786.4L628.2,786.4L630.9,786.5L633.5,786.6L636.2,786.6L638.9,786.7L641.5,786.8L644.2,786.9L646.8,787.0L649.5,787.2L652.2,787.3L654.8,787.5L657.5,787.7L660.2,787.9L662.8,788.1L665.5,788.3L668.1,788.6L670.8,788.8L673.5,789.1L676.1,789.4L678.8,789.8L681.4,790.1L684.1,790.5L686.8,790.9L689.4,791.3L692.1,791.8L694.8,792.2L697.4,792.6L700.1,793.1L702.7,793.5L705.4,793.9L708.1,794.4L710.7,794.7L713.4,795.1L716.0,795.5L718.7,795.8L721.4,796.1L724.0,796.4L726.7,796.6L729.4,796.8L732.0,797.0L734.7,797.2L737.3,797.3L740.0,797.4L742.7,797.5L745.3,797.6L748.0,797.6L750.6,797.6L753.3,797.5L756.0,797.5L758.6,797.4L761.3,797.3L763.9,797.2L766.6,797.0L769.3,796.9L771.9,796.7L774.6,796.5L777.2,796.3L779.9,796.0L782.6,795.8L785.2,795.5L787.9,795.3L790.5,795.0L793.2,794.7L795.9,794.4L798.5,794.1L801.2,793.8L803.9,793.4L806.5,793.1L809.2,792.8L811.8,792.4L814.5,792.1L817.2,791.8L819.8,791.5L822.5,791.1L825.1,790.8L827.8,790.5L830.5,790.2L833.1,789.8L835.8,789.5L838.4,789.2L841.1,788.9L843.8,788.6L846.4,788.3L849.1,788.0L851.7,787.7L854.4,787.4L857.1,787.1L859.7,786.9L862.4,786.6L865.0,786.3L867.7,786.1L870.4,785.8L873.0,785.6L875.7,785.3L878.4,785.1L881.0,784.9L883.7,784.7L886.3,784.4L889.0,784.2L891.7,784.0L894.3,783.9L897.0,783.7L899.6,783.5L902.3,783.3L905.0,783.2L907.6,783.0L910.3,782.9L912.9,782.7L915.6,782.6L918.3,782.5L920.9,782.4L923.6,782.3L926.3,782.2L928.9,782.1L931.6,782.1L934.2,782.0L936.9,782.0L939.6,781.9L942.2,781.9L944.9,781.9L947.5,781.9L950.2,781.8L952.9,781.8L955.5,781.8L958.2,781.8L960.9,781.8L963.5,781.9L966.2,781.9L968.8,781.9L971.5,781.9L974.2,781.9L976.8,781.9L979.5,781.9L982.1,781.9L984.8,781.9L987.5,781.9L990.1,781.9L992.8,781.9L995.5,781.8L998.1,781.8L1000.8,781.8L1003.4,781.7L1006.1,781.7L1008.8,781.6L1011.4,781.5L1014.1,781.4L1016.8,781.3L1019.4,781.2L1022.1,781.1L1024.8,780.9L1027.4,780.7L1030.1,780.6L1032.7,780.4L1035.4,780.2L1038.1,779.9L1040.7,779.7L1043.4,779.4L1046.1,779.1" fill="none" stroke="#008080" stroke-width="5.2" stroke-linejoin="round" stroke-linecap="butt"/>
<rect x="110.5" y="30.6" width="1017.1" height="818.0" fill="none" stroke="#000" stroke-width="5"/>
<path d="M195.3,848.6V834.0M364.8,848.6V834.0M534.3,848.6V834.0M703.8,848.6V834.0M873.3,848.6V834.0M1042.8,848.6V834.0M280.0,848.6V841.2M449.5,848.6V841.2M619.0,848.6V841.2M788.6,848.6V841.2M958.1,848.6V841.2" stroke="#000" stroke-width="5" fill="none"/>
<text x="195.3" y="891.3" font-size="34.5" text-anchor="middle">50</text>
<text x="364.8" y="891.3" font-size="34.5" text-anchor="middle">100</text>
<text x="534.3" y="891.3" font-size="34.5" text-anchor="middle">150</text>
<text x="703.8" y="891.3" font-size="34.5" text-anchor="middle">200</text>
<text x="873.3" y="891.3" font-size="34.5" text-anchor="middle">250</text>
<text x="1042.8" y="891.3" font-size="34.5" text-anchor="middle">300</text>
<text x="156.8" y="202.5" font-size="38.0">a.</text>
<text x="199.6" y="202.5" font-size="38.0">Uncured</text>
<text x="156.1" y="302.0" font-size="38.0">b.</text>
<text x="202.2" y="302.0" font-size="38.0">110</text>
<text x="264.9" y="280.7" font-size="22.8">o</text>
<text x="279.2" y="302.0" font-size="38.0">C-15min</text>
<text x="156.3" y="393.1" font-size="38.0">c.</text>
<text x="199.1" y="393.1" font-size="38.0">110</text>
<text x="262.6" y="371.8" font-size="22.8">o</text>
<text x="276.9" y="393.1" font-size="38.0">C-65min</text>
<text x="160.7" y="472.5" font-size="38.0">d.</text>
<text x="205.8" y="472.5" font-size="38.0">110</text>
<text x="269.3" y="451.2" font-size="22.8">o</text>
<text x="282.9" y="472.5" font-size="38.0">C-6h</text>
<text x="159.6" y="558.6" font-size="38.0">e.</text>
<text x="203.5" y="558.6" font-size="38.0">110</text>
<text x="266.5" y="537.3" font-size="22.8">o</text>
<text x="280.6" y="558.6" font-size="38.0">C-11h</text>
<text x="158.7" y="634.3" font-size="38.0">f.</text>
<text x="193.9" y="634.3" font-size="38.0">150</text>
<text x="257.2" y="613.0" font-size="22.8">o</text>
<text x="271.0" y="634.3" font-size="38.0">C-2h</text>
<text x="158.0" y="704.5" font-size="38.0">g.</text>
<text x="203.8" y="704.5" font-size="38.0">180</text>
<text x="267.1" y="683.2" font-size="22.8">o</text>
<text x="280.9" y="704.5" font-size="38.0">C-2h</text>
<text x="165.2" y="772.4" font-size="38.0">h.</text>
<text x="210.2" y="772.4" font-size="38.0">200</text>
<text x="273.9" y="751.1" font-size="22.8">o</text>
<text x="288.0" y="772.4" font-size="38.0">C-2h</text>
<text x="464.3" y="940.5" font-size="38.13">Temperature (</text>
<text x="720.0" y="919.0" font-size="22.8">o</text>
<text x="734.0" y="940.5" font-size="38.13">C)</text>
<text transform="translate(72.6,533.6) rotate(-90)" x="-2.6" y="0" font-size="39.37">Heat flow (W/g)</text>
<text x="20.4" y="757.3" font-size="38.43">Exo</text>
<text x="25.7" y="107.4" font-size="38.18">(A)</text>
<path d="M54.1,712.3V595" stroke="#000" stroke-width="5.4" fill="none"/>
<path d="M54.1,568 L62.6,596 L45.6,596 Z" fill="#000" stroke="#000" stroke-width="3" stroke-linejoin="round"/>
</g>
<g id="right">
<defs><clipPath id="rclip"><rect x="1371.2" y="41.0" width="1000.1" height="830.2"/></clipPath></defs>
<rect x="1371.2" y="41.0" width="1000.1" height="810.2" fill="none" stroke="#000" stroke-width="5"/>
<text x="1364.5" y="865.5" font-size="35" text-anchor="end">0</text>
<text x="1364.5" y="663.0" font-size="35" text-anchor="end">100</text>
<text x="1364.5" y="460.4" font-size="35" text-anchor="end">200</text>
<text x="1364.5" y="257.9" font-size="35" text-anchor="end">300</text>
<text x="1364.5" y="55.3" font-size="35" text-anchor="end">400</text>
<text x="2378.0" y="868.1" font-size="35">0</text>
<text x="2378.2" y="706.1" font-size="35">20</text>
<text x="2378.9" y="544.0" font-size="35">40</text>
<text x="2378.1" y="382.0" font-size="35">60</text>
<text x="2378.3" y="219.9" font-size="35">80</text>
<text x="2377.2" y="57.9" font-size="35">100</text>
<text x="1399.7" y="894" font-size="39" text-anchor="middle">a</text>
<text x="1434.0" y="894" font-size="39" text-anchor="middle">b</text>
<text x="1468.2" y="894" font-size="39" text-anchor="middle">c</text>
<text x="1678.9" y="894" font-size="39" text-anchor="middle">d</text>
<text x="1934.9" y="894" font-size="39" text-anchor="middle">e</text>
<text x="2142.0" y="894" font-size="39" text-anchor="middle">f</text>
<text x="2226.4" y="894" font-size="39" text-anchor="middle">g</text>
<text x="2328.0" y="894" font-size="39" text-anchor="middle">h</text>
<g clip-path="url(#rclip)">
<path d="M1397.2,70.1L1398.0,75.2L1398.7,80.3L1399.4,85.4L1400.0,90.5L1400.6,95.6L1401.1,100.6L1401.6,105.7L1402.1,110.7L1402.6,115.8L1403.0,120.8L1403.4,125.9L1403.8,130.9L1404.3,136.0L1404.7,141.0L1405.1,146.1L1405.6,151.2L1406.1,156.2L1406.6,161.3L1407.1,166.4L1407.7,171.6L1408.4,176.7L1409.1,181.8L1409.9,186.9L1410.7,192.0L1411.7,197.1L1412.8,202.2L1414.1,207.2L1415.5,212.1L1417.0,217.0L1418.7,221.9L1420.7,226.6L1422.8,231.2L1425.1,235.8L1427.7,240.2L1430.4,244.6L1433.3,248.8L1436.4,252.8L1439.7,256.7L1443.2,260.5L1446.7,264.0L1450.5,267.4L1454.4,270.6L1458.4,273.6L1462.5,276.4L1466.7,279.0L1471.1,281.5L1475.5,283.8L1480.0,285.9L1484.6,287.9L1489.3,289.8L1494.1,291.6L1498.9,293.3L1503.7,294.9L1508.6,296.4L1513.5,297.9L1518.5,299.4L1523.4,300.8L1528.4,302.2L1533.3,303.5L1538.3,304.9L1543.3,306.2L1548.2,307.6L1553.2,308.9L1558.2,310.2L1563.2,311.4L1568.2,312.7L1573.1,313.9L1578.1,315.1L1583.1,316.3L1588.1,317.5L1593.1,318.7L1598.1,319.8L1603.1,320.9L1608.1,322.0L1613.1,323.0L1618.2,324.1L1623.2,325.1L1628.2,326.0L1633.2,327.0L1638.2,327.9L1643.3,328.8L1648.3,329.6L1653.3,330.5L1658.4,331.3L1663.4,332.0L1668.4,332.7L1673.5,333.4L1678.5,334.1L1683.5,334.8L1688.6,335.4L1693.6,336.0L1698.7,336.6L1703.7,337.1L1708.8,337.7L1713.8,338.2L1718.9,338.7L1724.0,339.3L1729.0,339.8L1734.1,340.3L1739.1,340.8L1744.2,341.3L1749.3,341.9L1754.3,342.4L1759.4,342.9L1764.5,343.5L1769.5,344.1L1774.6,344.7L1779.7,345.3L1784.8,345.9L1789.8,346.5L1794.9,347.2L1800.0,347.9L1805.1,348.6L1810.1,349.4L1815.2,350.2L1820.3,351.0L1825.3,351.9L1830.4,352.8L1835.4,353.7L1840.5,354.7L1845.5,355.6L1850.6,356.7L1855.6,357.7L1860.6,358.8L1865.6,360.0L1870.6,361.2L1875.6,362.4L1880.6,363.7L1885.5,365.0L1890.4,366.3L1895.4,367.7L1900.3,369.2L1905.2,370.7L1910.0,372.2L1914.9,373.8L1919.7,375.4L1924.5,377.1L1929.3,378.9L1934.0,380.6L1938.8,382.5L1943.5,384.4L1948.2,386.3L1952.8,388.3L1957.5,390.4L1962.1,392.5L1966.7,394.7L1971.2,396.9L1975.7,399.2L1980.2,401.5L1984.7,403.9L1989.1,406.4L1993.5,408.9L1997.8,411.5L2002.1,414.2L2006.4,416.9L2010.6,419.7L2014.8,422.6L2019.0,425.5L2023.1,428.5L2027.2,431.5L2031.3,434.6L2035.3,437.7L2039.3,440.9L2043.2,444.2L2047.1,447.5L2050.9,450.9L2054.7,454.3L2058.5,457.7L2062.3,461.3L2066.0,464.8L2069.6,468.4L2073.2,472.1L2076.8,475.8L2080.3,479.5L2083.8,483.3L2087.2,487.1L2090.6,491.0L2094.0,494.9L2097.3,498.8L2100.6,502.8L2103.8,506.8L2107.0,510.8L2110.1,514.9L2113.2,519.0L2116.2,523.1L2119.2,527.3L2122.2,531.5L2125.1,535.7L2128.0,540.0L2130.8,544.2L2133.6,548.5L2136.4,552.8L2139.1,557.2L2141.8,561.5L2144.4,565.9L2147.1,570.3L2149.7,574.7L2152.2,579.2L2154.8,583.6L2157.3,588.1L2159.7,592.6L2162.2,597.1L2164.6,601.6L2167.0,606.1L2169.3,610.6L2171.7,615.1L2174.0,619.6L2176.3,624.2L2178.6,628.7L2180.9,633.3L2183.1,637.8L2185.4,642.4L2187.6,646.9L2189.9,651.4L2192.1,656.0L2194.3,660.5L2196.6,665.1L2198.8,669.6L2201.1,674.1L2203.4,678.6L2205.7,683.1L2208.0,687.6L2210.3,692.1L2212.7,696.5L2215.0,701.0L2217.5,705.4L2219.9,709.9L2222.4,714.3L2224.9,718.6L2227.5,723.0L2230.1,727.4L2232.7,731.7L2235.4,736.0L2238.1,740.3L2240.9,744.5L2243.8,748.7L2246.7,752.9L2249.7,757.1L2252.7,761.3L2255.9,765.4L2259.0,769.4L2262.2,773.5L2265.5,777.5L2268.8,781.5L2272.2,785.4L2275.6,789.3L2279.0,793.2L2282.5,797.0L2286.1,800.8L2289.6,804.6L2293.2,808.3L2296.8,811.9L2300.4,815.5L2304.1,819.1L2307.7,822.6L2311.4,826.1L2315.1,829.5L2318.8,832.9L2322.5,836.2" fill="none" stroke="#000" stroke-width="5.4" stroke-linejoin="round"/>
<path d="M1397.8,835.6L1398.2,830.7L1398.7,825.8L1399.1,820.8L1399.6,815.8L1400.0,810.8L1400.4,805.7L1400.9,800.7L1401.3,795.5L1401.8,790.4L1402.2,785.2L1402.7,780.1L1403.2,774.9L1403.7,769.7L1404.2,764.5L1404.7,759.2L1405.3,754.0L1405.9,748.8L1406.5,743.5L1407.2,738.3L1407.9,733.1L1408.7,727.9L1409.6,722.7L1410.6,717.6L1411.7,712.5L1412.9,707.5L1414.3,702.6L1415.9,697.7L1417.6,693.0L1419.5,688.3L1421.7,683.7L1424.0,679.3L1426.6,675.0L1429.3,670.8L1432.3,666.7L1435.4,662.7L1438.7,658.9L1442.1,655.2L1445.7,651.7L1449.5,648.4L1453.4,645.2L1457.4,642.1L1461.6,639.2L1465.8,636.5L1470.2,633.9L1474.7,631.4L1479.2,629.1L1483.9,626.9L1488.6,624.8L1493.3,622.8L1498.2,620.8L1503.0,619.0L1508.0,617.2L1512.9,615.5L1517.9,613.8L1522.9,612.2L1527.8,610.6L1532.8,609.0L1537.8,607.5L1542.8,606.0L1547.8,604.5L1552.8,603.1L1557.8,601.7L1562.8,600.3L1567.8,598.9L1572.8,597.6L1577.8,596.3L1582.9,595.0L1587.9,593.8L1592.9,592.6L1597.9,591.4L1602.9,590.3L1608.0,589.2L1613.0,588.1L1618.0,587.0L1623.0,586.0L1628.1,585.0L1633.1,584.0L1638.2,583.1L1643.2,582.2L1648.2,581.3L1653.3,580.5L1658.3,579.7L1663.4,578.9L1668.4,578.2L1673.5,577.4L1678.6,576.8L1683.6,576.1L1688.7,575.4L1693.8,574.8L1698.8,574.2L1703.9,573.6L1709.0,573.0L1714.0,572.4L1719.1,571.9L1724.2,571.3L1729.3,570.8L1734.4,570.2L1739.4,569.7L1744.5,569.1L1749.6,568.5L1754.7,568.0L1759.8,567.4L1764.9,566.8L1770.0,566.2L1775.1,565.5L1780.2,564.9L1785.3,564.2L1790.4,563.5L1795.6,562.8L1800.7,562.1L1805.8,561.3L1810.9,560.5L1816.0,559.7L1821.1,558.8L1826.2,557.9L1831.3,557.0L1836.4,556.0L1841.5,555.0L1846.6,554.0L1851.7,552.9L1856.8,551.8L1861.8,550.6L1866.9,549.4L1871.9,548.2L1876.9,546.9L1881.9,545.6L1886.9,544.2L1891.9,542.8L1896.9,541.4L1901.8,539.9L1906.7,538.4L1911.6,536.8L1916.5,535.1L1921.4,533.4L1926.2,531.7L1931.0,529.9L1935.8,528.1L1940.6,526.2L1945.3,524.2L1950.0,522.2L1954.7,520.1L1959.3,518.0L1964.0,515.8L1968.6,513.6L1973.1,511.3L1977.6,508.9L1982.1,506.5L1986.6,504.0L1991.0,501.4L1995.4,498.8L1999.7,496.1L2004.0,493.4L2008.3,490.6L2012.5,487.7L2016.7,484.7L2020.8,481.7L2024.9,478.7L2029.0,475.5L2033.0,472.3L2036.9,469.1L2040.9,465.8L2044.8,462.4L2048.6,459.0L2052.4,455.6L2056.2,452.1L2059.9,448.5L2063.6,444.9L2067.2,441.2L2070.8,437.5L2074.3,433.8L2077.8,430.0L2081.2,426.1L2084.6,422.2L2088.0,418.3L2091.3,414.3L2094.5,410.3L2097.8,406.3L2100.9,402.2L2104.0,398.1L2107.1,393.9L2110.1,389.7L2113.1,385.5L2116.0,381.3L2118.9,377.0L2121.7,372.7L2124.5,368.3L2127.2,364.0L2129.9,359.6L2132.6,355.2L2135.2,350.7L2137.8,346.3L2140.3,341.8L2142.8,337.3L2145.3,332.8L2147.7,328.2L2150.1,323.7L2152.5,319.1L2154.9,314.5L2157.2,309.9L2159.5,305.3L2161.8,300.7L2164.1,296.1L2166.4,291.4L2168.6,286.8L2170.8,282.1L2173.1,277.5L2175.3,272.8L2177.4,268.1L2179.6,263.5L2181.8,258.8L2184.0,254.1L2186.2,249.5L2188.3,244.8L2190.5,240.1L2192.7,235.5L2194.9,230.8L2197.0,226.2L2199.2,221.6L2201.5,216.9L2203.7,212.3L2205.9,207.7L2208.2,203.1L2210.5,198.6L2212.8,194.0L2215.2,189.5L2217.6,184.9L2220.0,180.4L2222.4,175.9L2224.9,171.5L2227.4,167.0L2230.0,162.6L2232.6,158.2L2235.3,153.8L2238.0,149.5L2240.8,145.2L2243.6,140.9L2246.5,136.6L2249.5,132.4L2252.5,128.2L2255.6,124.0L2258.7,119.9L2261.8,115.8L2265.1,111.8L2268.3,107.7L2271.7,103.8L2275.0,99.8L2278.4,95.9L2281.9,92.1L2285.4,88.2L2288.9,84.5L2292.5,80.8L2296.0,77.1L2299.7,73.5L2303.3,69.9L2307.0,66.4L2310.7,62.9L2314.5,59.5L2318.2,56.1L2322.0,52.8" fill="none" stroke="#0000FF" stroke-width="5.4" stroke-linejoin="round"/>
<circle cx="1397.5" cy="70.2" r="12.4" fill="#000"/>
<circle cx="1415.0" cy="219.1" r="12.4" fill="#000"/>
<circle cx="1443.9" cy="285.7" r="12.4" fill="#000"/>
<circle cx="1687.6" cy="341.6" r="12.4" fill="#000"/>
<circle cx="1931.9" cy="353.7" r="12.4" fill="#000"/>
<circle cx="2126.8" cy="499.7" r="12.4" fill="#000"/>
<circle cx="2224.9" cy="746.4" r="12.4" fill="#000"/>
<circle cx="2322.2" cy="840.3" r="12.4" fill="#000"/>
<path d="M1397.6,816.1L1412.8,841.6L1382.4,841.6Z" fill="#0000FF"/>
<path d="M1414.5,678.5L1429.7,704.0L1399.3,704.0Z" fill="#0000FF"/>
<path d="M1444.4,610.1L1459.6,635.6L1429.2,635.6Z" fill="#0000FF"/>
<path d="M1687.1,552.1L1702.3,577.6L1671.9,577.6Z" fill="#0000FF"/>
<path d="M1931.9,540.0L1947.1,565.5L1916.7,565.5Z" fill="#0000FF"/>
<path d="M2127.3,388.5L2142.5,414.0L2112.1,414.0Z" fill="#0000FF"/>
<path d="M2224.9,128.9L2240.1,154.4L2209.7,154.4Z" fill="#0000FF"/>
<path d="M2322.1,31.7L2337.3,57.2L2306.9,57.2Z" fill="#0000FF"/>
</g>
<path d="M1371.2,851.2H1385.8M1371.2,648.7H1385.8M1371.2,446.1H1385.8M1371.2,243.6H1385.8M1371.2,41.0H1385.8M1371.2,749.9H1378.6M1371.2,547.4H1378.6M1371.2,344.8H1378.6M1371.2,142.3H1378.6M2371.3,851.2H2356.7M2371.3,689.2H2356.7M2371.3,527.1H2356.7M2371.3,365.1H2356.7M2371.3,203.0H2356.7M2371.3,41.0H2356.7M2371.3,770.2H2363.9M2371.3,608.1H2363.9M2371.3,446.1H2363.9M2371.3,284.1H2363.9M2371.3,122.0H2363.9M1398.3,847.4V833.2M1423.2,847.4V833.2M1457.7,847.4V833.2M1680.6,847.4V833.2M1928.6,847.4V833.2M2137.6,847.4V833.2M2226.2,847.4V833.2M2322.0,847.4V833.2" stroke="#000" stroke-width="5" fill="none"/>
<path d="M1691,676V622" stroke="#000" stroke-width="5" fill="none"/>
<path d="M1691,594 L1699.6,623 L1682.4,623 Z" fill="#000" stroke="#000" stroke-width="3" stroke-linejoin="round"/>
<text x="1537.8" y="727.8" font-size="37.79" style="font-weight:normal">Phase separation</text>
<text x="1590.9" y="772.3" font-size="37.60" style="font-weight:normal">termination</text>
<text x="1739.2" y="938.4" font-size="39.39">Curing stage</text>
<text transform="translate(1285.0,680.3) rotate(-90)" x="-2.7" y="0" font-size="40.80">Residual enthalpy (W/g)</text>
<text transform="translate(2468.9,602.1) rotate(-90)" x="-1.7" y="0" font-size="41.07" style="fill:#0000FF">Conversion (%)</text>
<text x="1246.4" y="116.1" font-size="39.73">(B)</text>
</g>
</svg></body></html>
